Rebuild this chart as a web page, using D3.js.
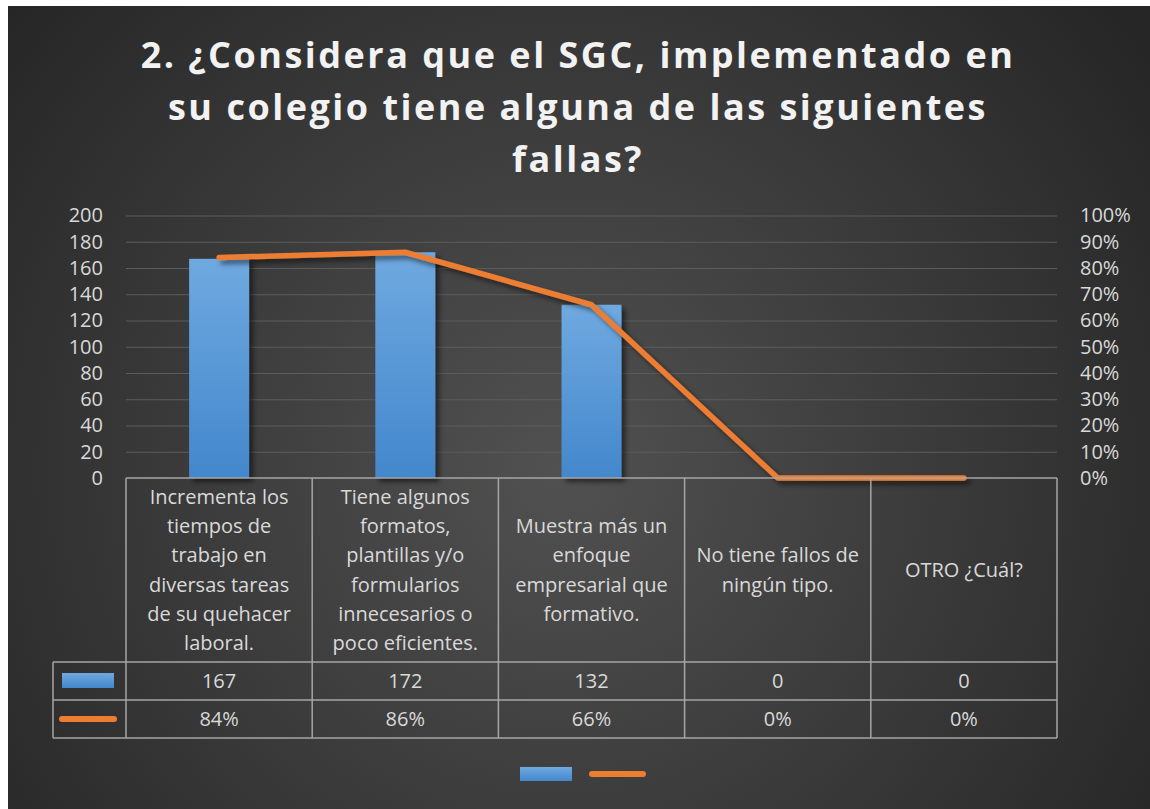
<!DOCTYPE html>
<html>
<head>
<meta charset="utf-8">
<script src="https://cdn.jsdelivr.net/npm/d3@7"></script>
<style>
  body { margin: 0; background: #fff; }
  svg { display: block; }
  text { font-family: "Open Sans", sans-serif; }
</style>
</head>
<body>
<div id="chart"></div>
<script>
const width = 1150;
const height = 809;

const titleLines = [
  "2. ¿Considera que el SGC, implementado en",
  "su colegio tiene alguna de las siguientes",
  "fallas?"
];
const categories = ["c1", "c2", "c3", "c4", "c5"];
const categoryLines = [
  ["Incrementa los", "tiempos de", "trabajo en", "diversas tareas", "de su quehacer", "laboral."],
  ["Tiene algunos", "formatos,", "plantillas y/o", "formularios", "innecesarios o", "poco eficientes."],
  ["Muestra más un", "enfoque", "empresarial que", "formativo."],
  ["No tiene fallos de", "ningún tipo."],
  ["OTRO ¿Cuál?"]
];
const counts = [167, 172, 132, 0, 0];
const percents = [0.84, 0.86, 0.66, 0, 0];
const leftTicks = [0, 20, 40, 60, 80, 100, 120, 140, 160, 180, 200];
const rightTicks = [0, 0.1, 0.2, 0.3, 0.4, 0.5, 0.6, 0.7, 0.8, 0.9, 1];

const plotLeft = 126, plotRight = 1057, plotTop = 215.5, plotBottom = 478;
const headerBottom = 662, row1Bottom = 700, row2Bottom = 738, keyLeft = 53;
const textColor = "#d9d9d9";
const lineColor = "#a6a6a6";
const orange = "#ED7D31";
const fontSize = 20;

const svg = d3.select("#chart")
  .append("svg")
  .attr("width", width)
  .attr("height", height);

const defs = svg.append("defs");

const bg = defs.append("radialGradient")
  .attr("id", "bg")
  .attr("gradientUnits", "userSpaceOnUse")
  .attr("cx", 560).attr("cy", 470).attr("r", 720);
bg.append("stop").attr("offset", "0%").attr("stop-color", "#515151");
bg.append("stop").attr("offset", "100%").attr("stop-color", "#262626");

const barGrad = defs.append("linearGradient")
  .attr("id", "barGrad")
  .attr("x1", 0).attr("y1", 0).attr("x2", 0).attr("y2", 1);
barGrad.append("stop").attr("offset", "0%").attr("stop-color", "#6fa9e0");
barGrad.append("stop").attr("offset", "100%").attr("stop-color", "#4387cc");

const shadow = defs.append("filter")
  .attr("id", "shadow")
  .attr("x", "-20%").attr("y", "-20%")
  .attr("width", "140%").attr("height", "140%");
shadow.append("feDropShadow")
  .attr("dx", 4).attr("dy", 4)
  .attr("stdDeviation", 2.5)
  .attr("flood-color", "#000")
  .attr("flood-opacity", 0.5);

svg.append("rect")
  .attr("x", 8).attr("y", 6)
  .attr("width", width - 8).attr("height", height - 6)
  .attr("fill", "url(#bg)");

// title
svg.append("g")
  .selectAll("text")
  .data(titleLines)
  .join("text")
  .attr("x", 578)
  .attr("y", (d, i) => 68 + i * 52)
  .attr("text-anchor", "middle")
  .attr("fill", "#f2f2f2")
  .attr("font-size", 36)
  .attr("font-weight", "bold")
  .attr("letter-spacing", 2.5)
  .text(d => d);

const x = d3.scaleBand()
  .domain(categories)
  .range([plotLeft, plotRight])
  .padding(0);

const y = d3.scaleLinear()
  .domain([0, 200])
  .range([plotBottom, plotTop]);

const yPct = d3.scaleLinear()
  .domain([0, 1])
  .range([plotBottom, plotTop]);

// gridlines
svg.append("g")
  .attr("transform", `translate(${plotLeft},0)`)
  .call(d3.axisLeft(y).tickValues(leftTicks.slice(1)).tickSize(-(plotRight - plotLeft)).tickFormat(""))
  .call(g => g.select(".domain").remove())
  .call(g => g.selectAll("line").attr("stroke", "#5c5c5c").attr("stroke-width", 1.2));

// left axis
svg.append("g")
  .attr("transform", `translate(${plotLeft},0)`)
  .call(d3.axisLeft(y).tickValues(leftTicks).tickSize(0).tickPadding(23))
  .call(g => g.select(".domain").remove())
  .call(g => g.selectAll("text")
    .attr("fill", textColor)
    .attr("font-size", fontSize)
    .attr("font-family", "Open Sans, sans-serif"));

// right axis
svg.append("g")
  .attr("transform", `translate(${plotRight},0)`)
  .call(d3.axisRight(yPct).tickValues(rightTicks).tickSize(0).tickPadding(23).tickFormat(d3.format(".0%")))
  .call(g => g.select(".domain").remove())
  .call(g => g.selectAll("text")
    .attr("fill", textColor)
    .attr("font-size", fontSize)
    .attr("font-family", "Open Sans, sans-serif"));

// bars
const barW = x.bandwidth() * 0.322;
svg.append("g")
  .selectAll("rect")
  .data(counts)
  .join("rect")
  .attr("x", (d, i) => x(categories[i]) + x.bandwidth() / 2 - barW / 2)
  .attr("y", d => y(d))
  .attr("width", barW)
  .attr("height", d => y(0) - y(d))
  .attr("fill", "url(#barGrad)")
  .attr("filter", "url(#shadow)");

// line
const line = d3.line()
  .x((d, i) => x(categories[i]) + x.bandwidth() / 2)
  .y(d => yPct(d));

svg.append("path")
  .datum(percents)
  .attr("d", line)
  .attr("fill", "none")
  .attr("stroke", orange)
  .attr("stroke-width", 5.5)
  .attr("stroke-linecap", "round")
  .attr("stroke-linejoin", "round")
  .attr("filter", "url(#shadow)");

// data table
const table = svg.append("g")
  .attr("stroke", lineColor)
  .attr("stroke-width", 1.5)
  .attr("fill", "none");

table.append("line")
  .attr("x1", plotLeft).attr("x2", plotRight)
  .attr("y1", plotBottom).attr("y2", plotBottom);

[headerBottom, row1Bottom, row2Bottom].forEach(yy => {
  table.append("line")
    .attr("x1", keyLeft).attr("x2", plotRight)
    .attr("y1", yy).attr("y2", yy);
});

table.append("line")
  .attr("x1", keyLeft).attr("x2", keyLeft)
  .attr("y1", headerBottom).attr("y2", row2Bottom);

table.selectAll(".vline")
  .data(categories.concat(["end"]))
  .join("line")
  .attr("x1", (d, i) => i < categories.length ? x(d) : plotRight)
  .attr("x2", (d, i) => i < categories.length ? x(d) : plotRight)
  .attr("y1", plotBottom)
  .attr("y2", row2Bottom);

// category labels
const lineH = 29.2;
const headerMid = (plotBottom + headerBottom) / 2;
svg.append("g")
  .selectAll("text")
  .data(categoryLines)
  .join("text")
  .attr("text-anchor", "middle")
  .attr("fill", textColor)
  .attr("font-size", fontSize)
  .each(function(lines, i) {
    const cx = x(categories[i]) + x.bandwidth() / 2;
    const startY = headerMid - (lines.length - 1) * lineH / 2;
    d3.select(this).selectAll("tspan")
      .data(lines)
      .join("tspan")
      .attr("x", cx)
      .attr("y", (d, j) => startY + j * lineH)
      .attr("dy", "0.35em")
      .text(d => d);
  });

// values rows
svg.append("g")
  .selectAll("text")
  .data(counts)
  .join("text")
  .attr("x", (d, i) => x(categories[i]) + x.bandwidth() / 2)
  .attr("y", (headerBottom + row1Bottom) / 2)
  .attr("dy", "0.35em")
  .attr("text-anchor", "middle")
  .attr("fill", textColor)
  .attr("font-size", fontSize)
  .text(d => d);

svg.append("g")
  .selectAll("text")
  .data(percents)
  .join("text")
  .attr("x", (d, i) => x(categories[i]) + x.bandwidth() / 2)
  .attr("y", (row1Bottom + row2Bottom) / 2)
  .attr("dy", "0.35em")
  .attr("text-anchor", "middle")
  .attr("fill", textColor)
  .attr("font-size", fontSize)
  .text(d => d3.format(".0%")(d));

// legend keys inside the table
svg.append("rect")
  .attr("x", 62).attr("y", 673)
  .attr("width", 52).attr("height", 15)
  .attr("fill", "url(#barGrad)");
svg.append("line")
  .attr("x1", 62).attr("x2", 114)
  .attr("y1", 719).attr("y2", 719)
  .attr("stroke", orange)
  .attr("stroke-width", 6)
  .attr("stroke-linecap", "round");

// bottom legend
svg.append("rect")
  .attr("x", 520).attr("y", 767)
  .attr("width", 52).attr("height", 14)
  .attr("fill", "url(#barGrad)");
svg.append("line")
  .attr("x1", 592).attr("x2", 643)
  .attr("y1", 774).attr("y2", 774)
  .attr("stroke", orange)
  .attr("stroke-width", 6)
  .attr("stroke-linecap", "round");
</script>
</body>
</html>
